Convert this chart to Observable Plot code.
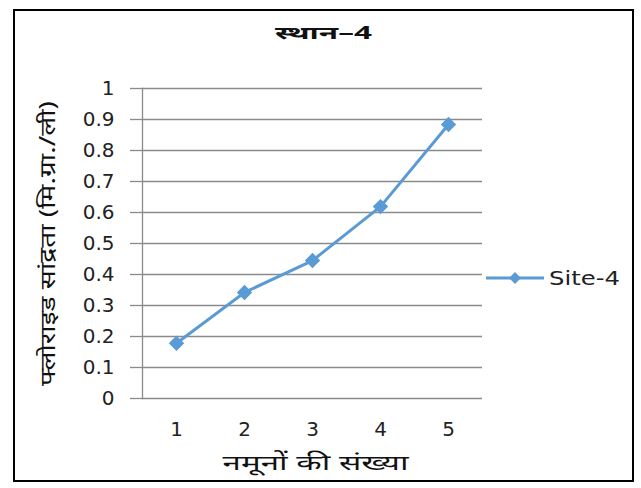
<!DOCTYPE html>
<html>
<head>
<meta charset="utf-8">
<script src="https://cdn.jsdelivr.net/npm/d3@7"></script>
<script src="https://cdn.jsdelivr.net/npm/@observablehq/plot@0.6"></script>
<style>
  body { margin: 0; background: #fff; }
  #wrap { position: relative; width: 641px; height: 488px; overflow: hidden; }
  #chart { position: absolute; left: 0; top: 0; }
  #border { position: absolute; left: 13px; top: 9px; width: 617px; height: 469px; border: 2px solid #000; pointer-events: none; }
  #legend { position: absolute; left: 486px; top: 264px; }
</style>
</head>
<body>
<div id="wrap">
  <div id="chart"></div>
  <div id="border"></div>
  <div id="legend"></div>
</div>
<script>
const title = "स्थान–4";
const yLabel = "फ्लोराइड सांद्रता (मि.ग्रा./ली)";
const xLabel = "नमूनों की संख्या";
const seriesName = "Site-4";
const samples = [1, 2, 3, 4, 5];
const values = [0.178, 0.342, 0.445, 0.619, 0.884];
const yTicks = [0, 0.1, 0.2, 0.3, 0.4, 0.5, 0.6, 0.7, 0.8, 0.9, 1];

const color = "#5B9BD5";
const grid = "#8a8a8a";
const data = samples.map((s, i) => ({sample: s, value: values[i]}));
const devFont = "'Noto Sans', 'Noto Sans Devanagari', 'Lohit Devanagari', 'Mangal', sans-serif";

const chart = Plot.plot({
  width: 641,
  height: 488,
  marginLeft: 142,
  marginRight: 159,
  marginTop: 88,
  marginBottom: 90,
  style: {fontFamily: "'DejaVu Sans', sans-serif", background: "transparent", color: "#222"},
  x: {type: "point", domain: samples, padding: 0.5},
  y: {domain: [0, 1]},
  marks: [
    Plot.ruleY(yTicks, {stroke: grid, strokeWidth: 1.3}),
    Plot.frame({anchor: "left", stroke: grid, strokeWidth: 1.3}),
    Plot.axisY({ticks: yTicks, tickFormat: d => String(d), tickSize: 12, tickPadding: 16, stroke: grid, strokeWidth: 1.3, fontSize: 20, label: null}),
    Plot.axisX({ticks: samples, tickSize: 0, tickPadding: 23, fontSize: 20, label: null}),
    Plot.line(data, {x: "sample", y: "value", stroke: color, strokeWidth: 3}),
    Plot.dot(data, {x: "sample", y: "value", symbol: "diamond2", r: 6, fill: color, stroke: color}),
    Plot.text([title], {frameAnchor: "top", dx: 11, dy: -62, fontSize: 18, fontWeight: "bold", fontFamily: devFont, fill: "#111"}),
    Plot.text([yLabel], {frameAnchor: "left", textAnchor: "middle", rotate: -90, dx: -94, fontSize: 21, fontFamily: devFont, fill: "#111"}),
    Plot.text([xLabel], {frameAnchor: "bottom", dx: 3, dy: 71, fontSize: 21, fontFamily: devFont, fill: "#111"})
  ]
});
document.getElementById("chart").appendChild(chart);

// stretch labels horizontally to match the reference's wide lettering
const stretch = {[title]: 97, [yLabel]: 285, [xLabel]: 186};
d3.select(chart).selectAll("text").each(function() {
  const t = this.textContent;
  if (stretch[t] && this.childElementCount === 0) {
    this.setAttribute("textLength", stretch[t]);
    this.setAttribute("lengthAdjust", "spacingAndGlyphs");
  }
});

// legend
const ls = d3.select("#legend").append("svg").attr("width", 140).attr("height", 28)
  .style("font-family", "'DejaVu Sans', sans-serif");
ls.append("line").attr("x1", 0).attr("x2", 58).attr("y1", 14).attr("y2", 14).attr("stroke", color).attr("stroke-width", 3);
ls.append("path").attr("d", d3.symbol(d3.symbolDiamond2, 90)()).attr("transform", "translate(29,14)").attr("fill", color);
ls.append("text").attr("x", 63).attr("y", 21).attr("font-size", 20).attr("fill", "#222")
  .attr("textLength", 71).attr("lengthAdjust", "spacingAndGlyphs").text(seriesName);
</script>
</body>
</html>
